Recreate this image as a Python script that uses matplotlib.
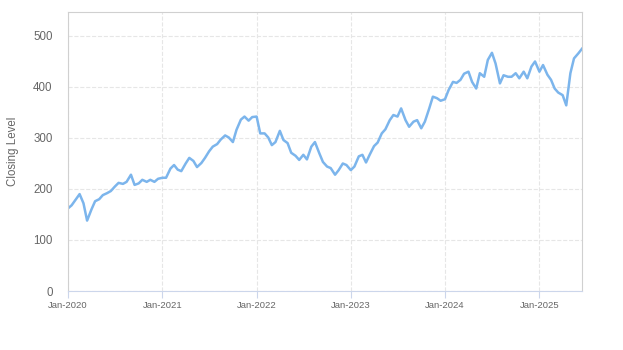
import numpy as np
import pandas as pd
import matplotlib
matplotlib.use("Agg")
import matplotlib.pyplot as plt
import matplotlib.dates as mdates

start = "2020-01-01"
end = "2025-06-15"
closing = [
    162, 168, 180, 190, 172, 138, 160, 176, 180, 188, 192, 196,
    205, 212, 210, 214, 228, 208, 211, 218, 214, 218, 214, 220,
    222, 222, 240, 247, 238, 235, 250, 261, 255, 243, 251, 261,
    274, 283, 288, 297, 305, 301, 292, 316, 336, 342, 334, 341,
    342, 309, 309, 301, 286, 292, 314, 296, 290, 271, 265, 257,
    267, 258, 283, 292, 270, 253, 244, 241, 228, 237, 250, 247,
    237, 244, 264, 267, 252, 267, 284, 291, 309, 317, 335, 345,
    342, 358, 335, 322, 332, 335, 319, 332, 358, 381, 378, 373,
    376, 394, 410, 408, 414, 426, 430, 410, 397, 427, 420, 453,
    467, 446, 407, 423, 420, 420, 427, 417, 430, 417, 440, 450,
    430, 443, 424, 414, 397, 389, 384, 364, 427, 456, 466, 475,
]

dates = pd.date_range(start, end, freq="SMS")[:len(closing)]

plt.rcParams['font.family'] = ['Liberation Sans', 'DejaVu Sans']

fig = plt.figure(figsize=(6.23, 3.5), dpi=100)
ax = fig.add_axes([68/623, 1-291/350, (582-68)/623, (291-12)/350])

ax.plot(dates, closing, color='#7cb5ec', linewidth=1.8)

ax.set_ylim(0, 547)
ax.set_xlim(pd.Timestamp("2020-01-01"), dates[-1])
ax.set_yticks([0, 100, 200, 300, 400, 500])
ax.xaxis.set_major_locator(mdates.YearLocator(month=1, day=1))
ax.xaxis.set_major_formatter(mdates.DateFormatter('%b-%Y'))

ax.grid(True, color='#e6e6e6', linestyle='--', linewidth=0.8)
ax.set_axisbelow(True)
for side in ['top', 'right', 'left']:
    ax.spines[side].set_color('#d0d0d0')
ax.spines['bottom'].set_color('#ccd6eb')

ax.tick_params(axis='y', length=0, pad=11, labelsize=8.3, labelcolor='#666666')
ax.tick_params(axis='x', length=5, color='#ccd6eb', pad=2, labelsize=6.8, labelcolor='#666666')
ax.set_ylabel("Closing Level", fontsize=8.3, color='#666666', labelpad=10)

fig.savefig("out.png", dpi=100)
